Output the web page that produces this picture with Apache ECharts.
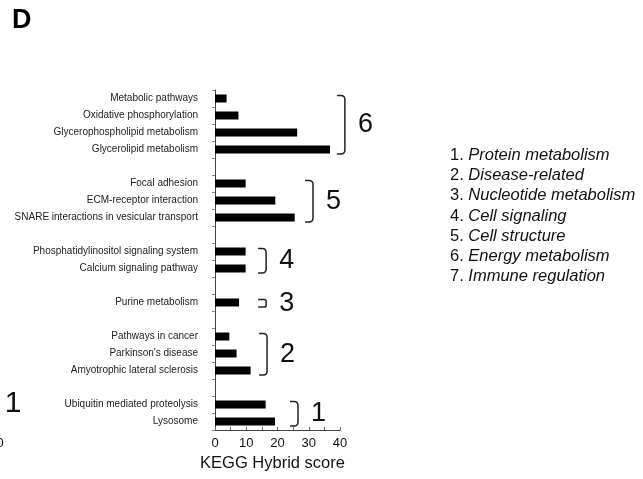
<!DOCTYPE html>
<html>
<head>
<meta charset="utf-8">
<script src="https://cdn.jsdelivr.net/npm/echarts@6/dist/echarts.min.js"></script>
<style>
html,body{margin:0;padding:0;background:#fff;}
#chart{width:643px;height:479px;}
</style>
</head>
<body>
<div id="chart"></div>
<script>
// ---- data ----
const categories = [
  'Metabolic pathways', 'Oxidative phosphorylation', 'Glycerophospholipid metabolism', 'Glycerolipid metabolism',
  ' ',
  'Focal adhesion', 'ECM-receptor interaction', 'SNARE interactions in vesicular transport',
  '  ',
  'Phosphatidylinositol signaling system', 'Calcium signaling pathway',
  '   ',
  'Purine metabolism',
  '    ',
  'Pathways in cancer', "Parkinson's disease", 'Amyotrophic lateral sclerosis',
  '     ',
  'Ubiquitin mediated proteolysis', 'Lysosome'
];
const scores = [3.7, 7.5, 26.3, 36.8, null, 9.8, 19.3, 25.5, null, 9.8, 9.8, null, 7.7, null, 4.6, 6.9, 11.4, null, 16.2, 19.2];
const xTicks = [0, 10, 20, 30, 40];
// bracket groups: [x position (score units), first row, last row, group number]
const groupBrackets = [
  [39.0, 0, 3, '6'],
  [28.8, 5, 7, '5'],
  [13.8, 9, 10, '4'],
  [13.8, 12, 12, '3'],
  [14.1, 14, 16, '2'],
  [24.0, 18, 19, '1']
];
const groupNames = ['Protein metabolism', 'Disease-related', 'Nucleotide metabolism', 'Cell signaling',
  'Cell structure', 'Energy metabolism', 'Immune regulation'];

const FONT = '"Liberation Sans", Arial, Helvetica, sans-serif';
const chart = echarts.init(document.getElementById('chart'));

const legendTexts = groupNames.map((n, i) => ({
  type: 'text',
  left: 450,
  top: 147 + i * 20.2,
  style: {
    text: '{n|' + (i + 1) + '. }{i|' + n + '}',
    rich: {
      n: {fontSize: 16.5, fontFamily: FONT, fill: '#111'},
      i: {fontSize: 16.5, fontFamily: FONT, fontStyle: 'italic', fill: '#111'}
    }
  }
}));

const option = {
  backgroundColor: '#fff',
  animation: false,
  grid: {left: 215, right: 303, top: 90, bottom: 49},
  xAxis: {
    type: 'value',
    min: xTicks[0], max: xTicks[xTicks.length - 1], interval: 10,
    name: 'KEGG Hybrid score',
    nameLocation: 'middle',
    nameGap: 14,
    nameTextStyle: {fontSize: 16.5, fontFamily: FONT, color: '#111', verticalAlign: 'top', padding: [0, 10, 0, 0]},
    axisLine: {show: true, lineStyle: {color: '#444', width: 1}},
    axisTick: {show: true, inside: true, length: 3, lineStyle: {color: '#666'}},
    minorTick: {show: true, splitNumber: 2, length: 3, lineStyle: {color: '#666'}},
    axisLabel: {fontSize: 13, fontFamily: FONT, color: '#111', margin: 7},
    splitLine: {show: false}
  },
  yAxis: {
    type: 'category',
    data: categories,
    inverse: true,
    axisLine: {show: true, lineStyle: {color: '#444', width: 1}},
    axisTick: {show: true, length: 3, lineStyle: {color: '#888'}},
    axisLabel: {fontSize: 10, fontFamily: FONT, color: '#222', margin: 17, interval: 0}
  },
  series: [
    {
      type: 'bar',
      data: scores,
      barWidth: 8,
      itemStyle: {color: '#000'},
      silent: true
    },
    {
      type: 'custom',
      data: groupBrackets,
      encode: {x: 0, y: 1},
      clip: false,
      silent: true,
      renderItem: function (params, api) {
        const x = api.value(0);
        const p1 = api.coord([x, api.value(1)]);
        const p2 = api.coord([x, api.value(2)]);
        const top = p1[1] - 3, bottom = p2[1] + 4.5;
        const w = 8;
        const r = Math.min(4, (bottom - top) / 4);
        const x0 = p1[0], x1 = p1[0] + w;
        const path = 'M' + x0 + ' ' + top +
          ' L' + (x1 - r) + ' ' + top +
          ' Q' + x1 + ' ' + top + ' ' + x1 + ' ' + (top + r) +
          ' L' + x1 + ' ' + (bottom - r) +
          ' Q' + x1 + ' ' + bottom + ' ' + (x1 - r) + ' ' + bottom +
          ' L' + x0 + ' ' + bottom;
        return {
          type: 'group',
          children: [
            {type: 'path', shape: {pathData: path},
             style: {stroke: '#222', lineWidth: 1.5, fill: null}},
            {type: 'text', x: x1 + 13, y: (top + bottom) / 2,
             style: {text: api.value(3), fontSize: 27, fontFamily: FONT, fill: '#111',
                     textAlign: 'left', textVerticalAlign: 'middle'}}
          ]
        };
      }
    }
  ],
  graphic: [
    {type: 'text', left: 12, top: 7,
     style: {text: 'D', fontSize: 27, fontWeight: 'bold', fontFamily: FONT, fill: '#000'}},
    {type: 'text', x: 13, y: 404,
     style: {text: '1', fontSize: 30, fontFamily: FONT, fill: '#111', textAlign: 'center', textVerticalAlign: 'middle'}},
    {type: 'text', x: 0, y: 443,
     style: {text: '0', fontSize: 13, fontFamily: FONT, fill: '#111', textAlign: 'center', textVerticalAlign: 'middle'}}
  ].concat(legendTexts)
};
chart.setOption(option);
</script>
</body>
</html>
